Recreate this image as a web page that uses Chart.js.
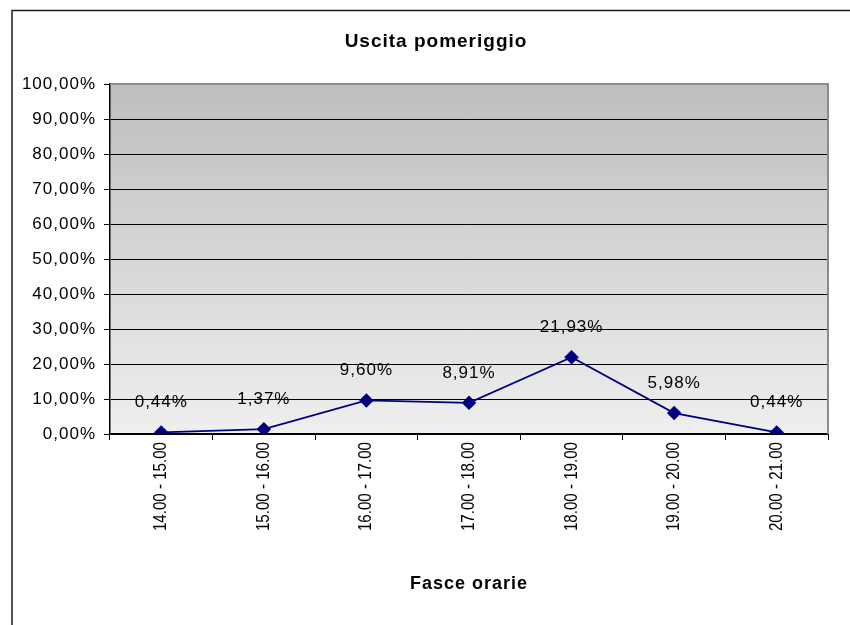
<!DOCTYPE html>
<html>
<head>
<meta charset="utf-8">
<script src="https://cdn.jsdelivr.net/npm/chart.js@4/dist/chart.umd.min.js"></script>
<style>
  html, body { margin: 0; padding: 0; background: #fff; }
  #wrap { width: 850px; height: 625px; }
</style>
</head>
<body>
<div id="wrap"><canvas id="chart" width="850" height="625"></canvas></div>
<script>
// values
const titolo = "Uscita pomeriggio";
const fasce = ["14.00 - 15.00", "15.00 - 16.00", "16.00 - 17.00", "17.00 - 18.00",
  "18.00 - 19.00", "19.00 - 20.00", "20.00 - 21.00"];
const uscita = [0.44, 1.37, 9.60, 8.91, 21.93, 5.98, 0.44];
const yMin = 0;
const yMax = 100;
const yStep = 10;

const fmtPct = (v) => v.toFixed(2).replace(".", ",") + "%";
const font = "'Liberation Sans', Arial, sans-serif";

// gray gradient behind the plot, outer frame and title
const sfondo = {
  id: "sfondo",
  beforeDraw(chart) {
    const { ctx, chartArea: a } = chart;
    ctx.save();
    const g = ctx.createLinearGradient(0, a.top, 0, a.bottom);
    g.addColorStop(0, "#bebebe");
    g.addColorStop(1, "#efefef");
    ctx.fillStyle = g;
    ctx.fillRect(a.left, a.top, a.right - a.left, a.bottom - a.top);

    ctx.strokeStyle = "#1a1a1a";
    ctx.lineWidth = 1.5;
    ctx.beginPath();
    ctx.moveTo(12, 625);
    ctx.lineTo(12, 10.5);
    ctx.lineTo(850, 10.5);
    ctx.stroke();

    ctx.letterSpacing = "1px";
    ctx.font = "bold 19px " + font;
    ctx.fillStyle = "#000";
    ctx.textAlign = "center";
    ctx.textBaseline = "middle";
    ctx.fillText(titolo, 436, 42);
    ctx.restore();
    // the excel text looks a bit stretched sideways
    ctx.letterSpacing = "1px";
  },
  beforeDatasetsDraw(chart) {
    const { ctx, chartArea: a } = chart;
    ctx.save();
    ctx.strokeStyle = "#8c8c8c";
    ctx.lineWidth = 2;
    ctx.beginPath();
    ctx.moveTo(a.left, a.top);
    ctx.lineTo(a.right, a.top);
    ctx.lineTo(a.right, a.bottom);
    ctx.stroke();
    ctx.restore();
  },
  afterDraw(chart) {
    chart.ctx.letterSpacing = "0px";
  }
};

// value labels above the points
const etichette = {
  id: "etichette",
  afterDatasetsDraw(chart) {
    const { ctx } = chart;
    const meta = chart.getDatasetMeta(0);
    ctx.save();
    ctx.font = "17px " + font;
    ctx.fillStyle = "#000";
    ctx.textAlign = "center";
    ctx.textBaseline = "middle";
    meta.data.forEach((pt, i) => {
      ctx.fillText(fmtPct(uscita[i]), pt.x, pt.y - 30);
    });
    ctx.restore();
  }
};

// vertical category labels, a little squeezed along their length like the original
const etichetteX = {
  id: "etichetteX",
  afterDraw(chart) {
    const { ctx } = chart;
    const sc = chart.scales.x;
    ctx.save();
    ctx.letterSpacing = "0px";
    ctx.font = "18px " + font;
    ctx.fillStyle = "#000";
    ctx.textAlign = "right";
    ctx.textBaseline = "middle";
    sc.ticks.forEach((t, i) => {
      const x = sc.getPixelForTick(i);
      ctx.save();
      ctx.translate(x, sc.top + 8);
      ctx.rotate(-Math.PI / 2);
      ctx.scale(0.84, 1);
      ctx.fillText(fasce[i], 0, 0);
      ctx.restore();
    });
    ctx.restore();
  }
};

new Chart(document.getElementById("chart"), {
  type: "line",
  data: {
    labels: fasce,
    datasets: [{
      data: uscita,
      borderColor: "#000080",
      backgroundColor: "#000080",
      borderWidth: 1.8,
      pointStyle: "rectRot",
      pointRadius: 6,
      pointHoverRadius: 6,
      tension: 0
    }]
  },
  options: {
    responsive: false,
    animation: false,
    events: [],
    layout: { padding: { left: 12, right: 22, top: 84, bottom: 0 } },
    plugins: {
      legend: { display: false },
      tooltip: { enabled: false },
      title: { display: false }
    },
    scales: {
      x: {
        offset: true,
        grid: {
          offset: true,
          drawOnChartArea: false,
          drawTicks: true,
          tickLength: 6,
          color: "#000"
        },
        border: { color: "#000", width: 1.5 },
        ticks: { display: false, autoSkip: false },
        title: {
          display: true,
          text: "Fasce orarie",
          color: "#000",
          font: { family: font, size: 18, weight: "bold" },
          padding: { top: 4, bottom: 30 }
        },
        afterFit(scale) { scale.height = 191; }
      },
      y: {
        min: yMin,
        max: yMax,
        grid: { color: "#000", lineWidth: 1, tickLength: 6 },
        border: { color: "#000", width: 1.5 },
        ticks: {
          stepSize: yStep,
          color: "#000",
          font: { family: font, size: 17 },
          padding: 8,
          callback: (v) => fmtPct(v)
        },
        afterFit(scale) { scale.width = 98; }
      }
    }
  },
  plugins: [sfondo, etichette, etichetteX]
});
</script>
</body>
</html>
